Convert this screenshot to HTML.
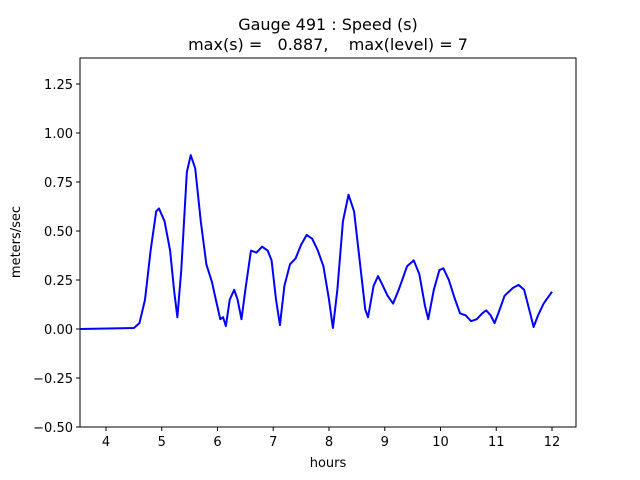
<!DOCTYPE html>
<html><head><meta charset="utf-8"><style>
html,body{margin:0;padding:0;background:#fff;}
svg{display:block;font-family:"DejaVu Sans","Liberation Sans",sans-serif;}
</style></head><body>
<svg width="640" height="480" viewBox="0 0 640 480" xmlns="http://www.w3.org/2000/svg">
<rect width="640" height="480" fill="#fff"/>
<text x="328" y="30" font-size="16" text-anchor="middle">Gauge 491 : Speed (s)</text>
<text x="328" y="50" font-size="16" text-anchor="middle" xml:space="preserve">max(s) =   0.887,    max(level) = 7</text>
<defs><clipPath id="c"><rect x="80" y="58" width="496" height="369"/></clipPath></defs>
<g clip-path="url(#c)">
<polyline fill="none" stroke="#0000ff" stroke-width="2" vector-effect="non-scaling-stroke" stroke-linejoin="round"
transform="translate(-117,329) scale(55.75,-196)"
points="3.5,0 4.5,0.005 4.6,0.03 4.7,0.15 4.8,0.4 4.9,0.6 4.95,0.615 5.05,0.55 5.15,0.4 5.22,0.2 5.28,0.06 5.35,0.3 5.45,0.8 5.52,0.887 5.6,0.82 5.7,0.55 5.8,0.33 5.9,0.24 5.97,0.15 6.05,0.05 6.1,0.06 6.15,0.015 6.22,0.15 6.3,0.2 6.36,0.15 6.43,0.05 6.5,0.2 6.6,0.4 6.7,0.39 6.8,0.42 6.9,0.4 6.97,0.35 7.05,0.15 7.12,0.02 7.2,0.22 7.3,0.33 7.4,0.36 7.5,0.43 7.6,0.48 7.7,0.46 7.8,0.4 7.9,0.32 8.0,0.15 8.07,0.005 8.15,0.2 8.25,0.55 8.35,0.685 8.45,0.6 8.55,0.35 8.65,0.1 8.7,0.06 8.8,0.22 8.88,0.27 8.95,0.23 9.05,0.17 9.15,0.13 9.25,0.2 9.4,0.32 9.52,0.35 9.62,0.28 9.72,0.12 9.78,0.05 9.88,0.2 9.98,0.3 10.05,0.31 10.15,0.25 10.25,0.16 10.35,0.08 10.45,0.07 10.55,0.04 10.65,0.05 10.75,0.08 10.82,0.095 10.9,0.07 10.97,0.03 11.05,0.09 11.15,0.17 11.3,0.21 11.4,0.225 11.5,0.2 11.6,0.09 11.67,0.01 11.75,0.07 11.85,0.13 12.0,0.19"/>
</g>
<rect x="80" y="58" width="496" height="369" fill="none" stroke="#000" stroke-width="1"/>
<g stroke="#000" stroke-width="1">
<line x1="106" y1="427" x2="106" y2="431"/><line x1="161.75" y1="427" x2="161.75" y2="431"/>
<line x1="217.5" y1="427" x2="217.5" y2="431"/><line x1="273.25" y1="427" x2="273.25" y2="431"/>
<line x1="329" y1="427" x2="329" y2="431"/><line x1="384.75" y1="427" x2="384.75" y2="431"/>
<line x1="440.5" y1="427" x2="440.5" y2="431"/><line x1="496.25" y1="427" x2="496.25" y2="431"/>
<line x1="552" y1="427" x2="552" y2="431"/>
<line x1="76" y1="427" x2="80" y2="427"/><line x1="76" y1="378" x2="80" y2="378"/>
<line x1="76" y1="329" x2="80" y2="329"/><line x1="76" y1="280" x2="80" y2="280"/>
<line x1="76" y1="231" x2="80" y2="231"/><line x1="76" y1="182" x2="80" y2="182"/>
<line x1="76" y1="133" x2="80" y2="133"/><line x1="76" y1="84" x2="80" y2="84"/>
</g>
<g font-size="13" text-anchor="middle">
<text x="106" y="446">4</text><text x="161.75" y="446">5</text><text x="217.5" y="446">6</text>
<text x="273.25" y="446">7</text><text x="329" y="446">8</text><text x="384.75" y="446">9</text>
<text x="440.5" y="446">10</text><text x="496.25" y="446">11</text><text x="552" y="446">12</text>
<text x="328" y="467">hours</text>
</g>
<g font-size="13" text-anchor="end">
<text x="73" y="432">−0.50</text><text x="73" y="383">−0.25</text><text x="73" y="334">0.00</text>
<text x="73" y="285">0.25</text><text x="73" y="236">0.50</text><text x="73" y="187">0.75</text>
<text x="73" y="138">1.00</text><text x="73" y="89">1.25</text>
</g>
<text font-size="13" text-anchor="middle" transform="translate(20,242) rotate(-90)">meters/sec</text>
</svg>
</body></html>
